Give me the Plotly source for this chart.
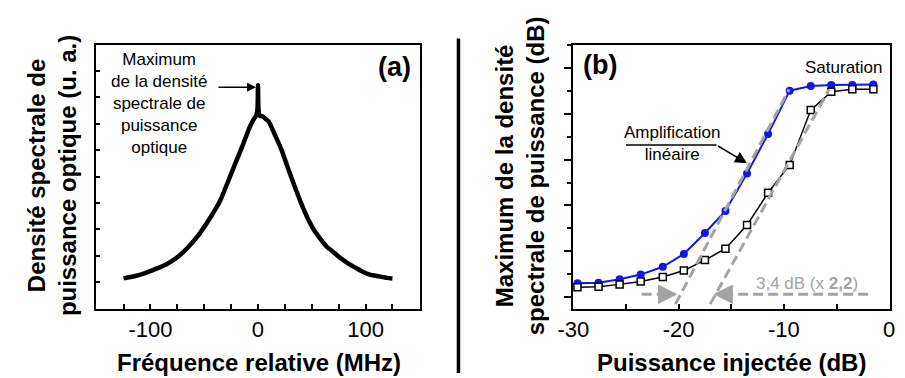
import plotly.graph_objects as go

# ---------------- Panel (a) data ----------------
freq_mhz = [-125, -115, -105, -95, -85, -75, -65, -55, -45, -35, -25, -15, -8, -4, -1.5, -0.4,
            0, 0.4, 1.5, 4, 10, 16, 22, 28, 34, 40, 46, 52, 58, 64, 70, 77, 84, 90, 97, 104,
            112, 120, 125]
dsp_ua = [0.07, 0.11, 0.17, 0.25, 0.34, 0.47, 0.66, 0.90, 1.20, 1.55, 2.05, 2.55, 2.92, 3.08,
          3.16, 3.30, 3.73, 3.30, 3.15, 3.14, 3.04, 2.78, 2.50, 2.15, 1.82, 1.50, 1.22, 0.99,
          0.82, 0.67, 0.57, 0.45, 0.35, 0.28, 0.20, 0.14, 0.11, 0.08, 0.07]
a_xticks = [-125, -100, -75, -50, -25, 0, 25, 50, 75, 100, 125]
a_xticklabels = ["", "-100", "", "", "", "0", "", "", "", "100", ""]
a_yticks = [0, 0.5, 1, 1.5, 2, 2.5, 3, 3.5, 4]

# ---------------- Panel (b) data ----------------
p_inj_db = [-29.6, -27.6, -25.6, -23.6, -21.5, -19.5, -17.5, -15.55, -13.5, -11.5, -9.45,
            -7.45, -5.5, -3.5, -1.5]
blue_db = [0.91, 0.95, 1.17, 1.48, 1.99, 2.83, 4.20, 5.64, 8.10, 10.67, 13.51, 13.81, 13.88,
           13.88, 13.92]
black_db = [0.65, 0.69, 0.84, 1.03, 1.32, 1.75, 2.43, 3.17, 4.72, 6.83, 8.65, 12.24, 13.44,
            13.60, 13.60]
asym_blue_x = [-20.3, -9.5]
asym_blue_y = [-0.45, 13.6]
asym_black_x = [-17.0, -5.7]
asym_black_y = [-0.45, 13.6]
shift_y = 0.19
shift_left_x = [-23.5, -20.1]
shift_right_x = [-2.0, -16.7]
b_xticks = [-30, -25, -20, -15, -10, -5, 0]
b_xticklabels = ["-30", "", "-20", "", "-10", "", "0"]

FONT = "Liberation Sans, Arial, sans-serif"
GRAY = "#a3a3a3"
BLUE = "#1414ee"

fig = go.Figure()

# Panel (a) spectrum
fig.add_trace(go.Scatter(x=freq_mhz, y=dsp_ua, mode="lines",
                         line=dict(color="black", width=4.5, shape="spline", smoothing=0.4),
                         xaxis="x", yaxis="y", showlegend=False, hoverinfo="skip"))

# Panel (b) curves
fig.add_trace(go.Scatter(x=p_inj_db, y=blue_db, mode="lines+markers",
                         line=dict(color=BLUE, width=2),
                         marker=dict(symbol="circle", size=8, color=BLUE),
                         xaxis="x2", yaxis="y2", showlegend=False))
fig.add_trace(go.Scatter(x=p_inj_db, y=black_db, mode="lines+markers",
                         line=dict(color="black", width=1.5),
                         marker=dict(symbol="square", size=7, color="white",
                                     line=dict(color="black", width=1.5)),
                         xaxis="x2", yaxis="y2", showlegend=False))
# linear asymptotes (dashed gray)
for xs, ys in [(asym_blue_x, asym_blue_y), (asym_black_x, asym_black_y)]:
    fig.add_trace(go.Scatter(x=xs, y=ys, mode="lines",
                             line=dict(color=GRAY, width=3, dash="10px,5px"),
                             xaxis="x2", yaxis="y2", showlegend=False))
# horizontal dashed shift arrows (shaft)
fig.add_trace(go.Scatter(x=[shift_left_x[0], shift_left_x[1] - 0.8], y=[shift_y, shift_y],
                         mode="lines", line=dict(color=GRAY, width=3, dash="10px,5px"),
                         xaxis="x2", yaxis="y2", showlegend=False))
fig.add_trace(go.Scatter(x=[shift_right_x[0], shift_right_x[1] + 0.8], y=[shift_y, shift_y],
                         mode="lines", line=dict(color=GRAY, width=3, dash="10px,5px"),
                         xaxis="x2", yaxis="y2", showlegend=False))

annotations = []
# arrowheads of shift arrows
annotations.append(dict(x=shift_left_x[1], y=shift_y, ax=shift_left_x[1] - 1.2, ay=shift_y,
                        xref="x2", yref="y2", axref="x2", ayref="y2", text="",
                        showarrow=True, arrowhead=2, arrowsize=1.3, arrowwidth=3,
                        arrowcolor=GRAY))
annotations.append(dict(x=shift_right_x[1], y=shift_y, ax=shift_right_x[1] + 1.2, ay=shift_y,
                        xref="x2", yref="y2", axref="x2", ayref="y2", text="",
                        showarrow=True, arrowhead=2, arrowsize=1.3, arrowwidth=3,
                        arrowcolor=GRAY))
annotations.append(dict(x=-7.8, y=0.91, xref="x2", yref="y2", text="3,4 dB (x <b>2,2</b>)",
                        showarrow=False, font=dict(family=FONT, size=17, color=GRAY),
                        xanchor="center", yanchor="middle"))
annotations.append(dict(x=-4.3, y=15.01, xref="x2", yref="y2", text="Saturation",
                        showarrow=False, font=dict(family=FONT, size=17, color="black"),
                        xanchor="center", yanchor="middle"))
annotations.append(dict(x=-20.6, y=10.03, xref="x2", yref="y2",
                        text="Amplification<br>linéaire",
                        showarrow=False, font=dict(family=FONT, size=17, color="black"),
                        xanchor="center", yanchor="middle"))
annotations.append(dict(x=-13.5, y=8.76, ax=-16.4, ay=9.95, xref="x2", yref="y2",
                        axref="x2", ayref="y2", text="", showarrow=True, arrowhead=2,
                        arrowsize=1.6, arrowwidth=1.5, arrowcolor="black"))
annotations.append(dict(x=-27.5, y=15.2, xref="x2", yref="y2", text="<b>(b)</b>",
                        showarrow=False, font=dict(family=FONT, size=27, color="black"),
                        xanchor="center", yanchor="middle"))
# panel (a) annotations
annotations.append(dict(x=126.6, y=4.08, xref="x", yref="y", text="<b>(a)</b>",
                        showarrow=False, font=dict(family=FONT, size=27, color="black"),
                        xanchor="center", yanchor="middle"))
annotations.append(dict(x=-91.8, y=3.38, xref="x", yref="y",
                        text="Maximum<br>de la densité<br>spectrale de<br>puissance<br>optique",
                        showarrow=False, font=dict(family=FONT, size=17, color="black"),
                        xanchor="center", yanchor="middle"))
annotations.append(dict(x=-1.8, y=3.69, ax=-38.2, ay=3.69, xref="x", yref="y",
                        axref="x", ayref="y", text="", showarrow=True, arrowhead=2,
                        arrowsize=1.2, arrowwidth=1.5, arrowcolor="black"))
# axis titles
annotations.append(dict(x=38 / 905, y=1 - 176 / 378, xref="paper", yref="paper",
                        text="<b>Densité spectrale de<br>puissance optique (u. a.)</b>",
                        textangle=-90, showarrow=False,
                        font=dict(family=FONT, size=24, color="black"),
                        xanchor="center", yanchor="middle"))
annotations.append(dict(x=517.3 / 905, y=1 - 176 / 378, xref="paper", yref="paper",
                        text="<b>Maximum de la densité<br>spectrale de puissance (dB)</b>",
                        textangle=-90, showarrow=False,
                        font=dict(family=FONT, size=24, color="black"),
                        xanchor="center", yanchor="middle"))
annotations.append(dict(x=249.5 / 905, y=1 - 362 / 378, xref="paper", yref="paper",
                        text="<b>Fréquence relative (MHz)</b>", showarrow=False,
                        font=dict(family=FONT, size=24, color="black"),
                        xanchor="center", yanchor="middle"))
annotations.append(dict(x=734 / 905, y=1 - 362 / 378, xref="paper", yref="paper",
                        text="<b>Puissance injectée (dB)</b>", showarrow=False,
                        font=dict(family=FONT, size=24, color="black"),
                        xanchor="center", yanchor="middle"))

shapes = [
    # Horizontal underline of the "Amplification linéaire" pointer
    dict(type="line", xref="x2", yref="y2", x0=-25.0, x1=-16.4, y0=9.95, y1=9.95,
         line=dict(color="black", width=1.5)),
    # Separator between panels
    dict(type="line", xref="paper", yref="paper", x0=454 / 905, x1=454 / 905,
         y0=1 - 38.5 / 378, y1=1 - 373 / 378, line=dict(color="black", width=3.5)),
]

axis_common = dict(showgrid=False, zeroline=False, showline=True, linecolor="black",
                   linewidth=2, mirror=True, tickcolor="black", tickwidth=1.5,
                   tickfont=dict(family=FONT, size=22, color="black"))

fig.update_layout(
    width=905, height=378, autosize=False,
    margin=dict(l=0, r=0, t=0, b=0),
    paper_bgcolor="white", plot_bgcolor="white",
    showlegend=False,
    xaxis=dict(domain=[82.5 / 905, 415 / 905], range=[-151, 151], tickmode="array",
               tickvals=a_xticks, ticktext=a_xticklabels, ticks="inside", ticklen=5,
               anchor="y", **axis_common),
    yaxis=dict(domain=[1 - 308.5 / 378, 1 - 44.5 / 378], range=[-0.5, 4.5],
               tickmode="array", tickvals=a_yticks, ticks="inside", ticklen=4,
               showticklabels=False, anchor="x", **axis_common),
    xaxis2=dict(domain=[571 / 905, 895.5 / 905], range=[-30.05, 0.05], tickmode="array",
                tickvals=b_xticks, ticktext=b_xticklabels, ticks="inside", ticklen=5,
                anchor="y2", **axis_common),
    yaxis2=dict(domain=[1 - 309 / 378, 1 - 44.5 / 378], range=[-0.77, 16.53],
                tick0=0, dtick=3, ticks="outside", ticklen=7,
                minor=dict(dtick=1.5, ticks="outside", ticklen=4, tickcolor="black",
                           tickwidth=1.5, showgrid=False),
                showticklabels=False, anchor="x2", **axis_common),
    annotations=annotations,
    shapes=shapes,
)

fig.write_html("out.html",
               config={"displayModeBar": False},
               post_script="document.body.style.margin='0px';"
                           "document.body.style.overflow='hidden';")
